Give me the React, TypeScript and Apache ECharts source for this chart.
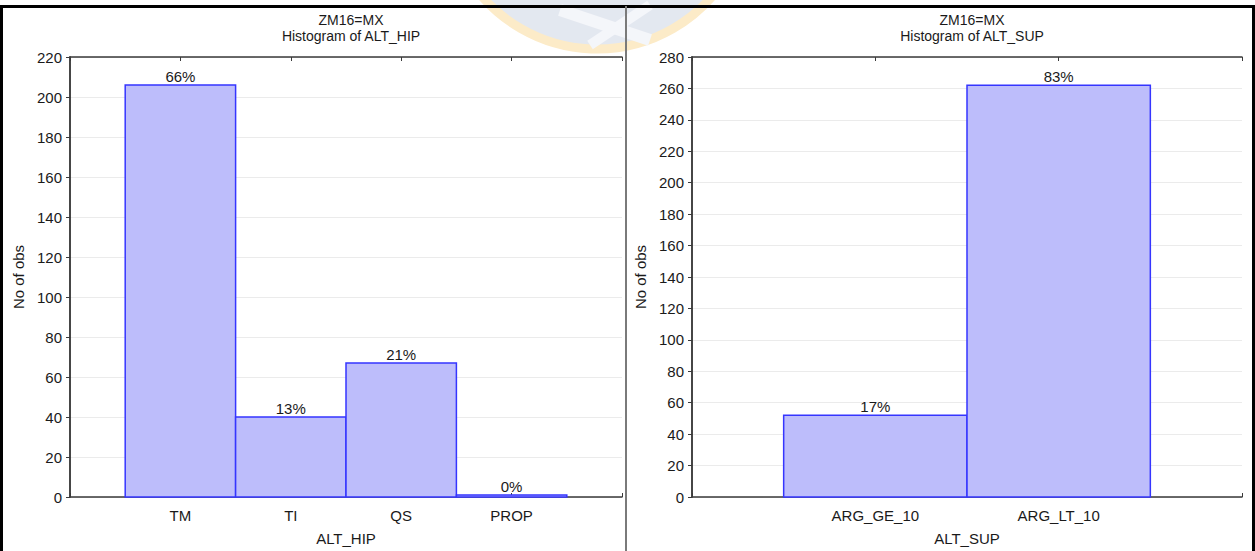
import React, { useEffect, useRef } from "react";
import * as echarts from "echarts";

const hipCategories = ["TM", "TI", "QS", "PROP"];
const hipCounts = [206, 40, 67, 1];
const supCategories = ["ARG_GE_10", "ARG_LT_10"];
const supCounts = [52, 262];
const hipYMax = 220;
const supYMax = 280;
const yInterval = 20;
const groupTitle = "ZM16=MX";
const hipTitle = "Histogram of ALT_HIP";
const supTitle = "Histogram of ALT_SUP";
const hipAxisName = "ALT_HIP";
const supAxisName = "ALT_SUP";
const yAxisName = "No of obs";

const FONT = "'Liberation Sans', Arial, sans-serif";
const TXT = "#1a1a1a";
const AXIS = "#3a3a3a";
const FS = 15;

function histSeries(counts: number[], xIdx: number, yIdx: number) {
  const total = counts.reduce((a, b) => a + b, 0);
  return {
    type: "custom",
    xAxisIndex: xIdx,
    yAxisIndex: yIdx,
    z: 5,
    data: counts.map((v, i) => [i + 1, v]),
    renderItem: (params: any, api: any) => {
      const x = api.value(0);
      const y = api.value(1);
      const p0 = api.coord([x - 0.5, 0]);
      const p1 = api.coord([x + 0.5, y]);
      const pct = Math.round((y / total) * 100) + "%";
      return {
        type: "group",
        children: [
          {
            type: "rect",
            shape: { x: p0[0], y: p1[1], width: p1[0] - p0[0], height: p0[1] - p1[1] },
            style: { fill: "#bdbdfb", stroke: "#3535ff", lineWidth: 1.5 },
          },
          {
            type: "text",
            style: {
              text: pct,
              x: (p0[0] + p1[0]) / 2,
              y: p1[1] - 1,
              align: "center",
              verticalAlign: "bottom",
              fill: TXT,
              font: `${FS}px ${FONT}`,
            },
          },
        ],
      };
    },
  };
}

function xAxes(cats: string[], grid: number, name: string) {
  const max = cats.length + 1;
  const base = {
    type: "value",
    gridIndex: grid,
    min: 0,
    max,
    interval: 1,
    splitLine: { show: false },
    axisLine: { show: true, onZero: false, lineStyle: { color: AXIS, width: 1.5 } },
    axisTick: { show: true, inside: true, length: 4, lineStyle: { color: AXIS } },
  };
  return [
    {
      ...base,
      position: "bottom",
      name,
      nameLocation: "middle",
      nameGap: 34,
      nameTextStyle: { color: TXT, fontFamily: FONT, fontSize: FS },
      axisLabel: {
        color: TXT,
        fontFamily: FONT,
        fontSize: FS,
        margin: 11,
        formatter: (v: number) => (v >= 1 && v <= cats.length ? cats[v - 1] : ""),
      },
    },
    { ...base, position: "top", axisLabel: { show: false } },
  ];
}

function yAxes(maxV: number, grid: number) {
  const base = {
    type: "value",
    gridIndex: grid,
    min: 0,
    max: maxV,
    interval: yInterval,
    axisLine: { show: true, lineStyle: { color: AXIS, width: 1.5 } },
  };
  return [
    {
      ...base,
      position: "left",
      name: yAxisName,
      nameLocation: "middle",
      nameRotate: 90,
      nameGap: 44,
      nameTextStyle: { color: TXT, fontFamily: FONT, fontSize: FS },
      axisTick: { show: true, inside: false, length: 4, lineStyle: { color: AXIS } },
      axisLabel: { color: TXT, fontFamily: FONT, fontSize: FS, margin: 8 },
      splitLine: { show: true, lineStyle: { color: "#ebebeb", width: 1 } },
    },
    {
      ...base,
      position: "right",
      axisTick: { show: true, inside: true, length: 4, lineStyle: { color: AXIS } },
      axisLabel: { show: false },
      splitLine: { show: false },
    },
  ];
}

export default function App() {
  const ref = useRef<HTMLDivElement>(null);
  useEffect(() => {
    if (!ref.current) return;
    const chart = echarts.init(ref.current, null, { renderer: "svg" });
    const titleStyle = { color: TXT, fontFamily: FONT, fontSize: 14, fontWeight: "normal", lineHeight: 16 };
    const option: any = {
      animation: false,
      backgroundColor: "#ffffff",
      title: [
        { text: groupTitle + "\n" + hipTitle, left: 346, top: 7, textAlign: "center", textStyle: titleStyle },
        { text: groupTitle + "\n" + supTitle, left: 967, top: 7, textAlign: "center", textStyle: titleStyle },
      ],
      grid: [
        { left: 70, top: 57, width: 552, height: 440, show: false },
        { left: 692, top: 57, width: 550, height: 440, show: false },
      ],
      xAxis: [...xAxes(hipCategories, 0, hipAxisName), ...xAxes(supCategories, 1, supAxisName)],
      yAxis: [...yAxes(hipYMax, 0), ...yAxes(supYMax, 1)],
      series: [histSeries(hipCounts, 0, 0), histSeries(supCounts, 2, 2)],
      graphic: [
        {
          type: "circle",
          silent: true,
          z: -10,
          shape: { cx: 597, cy: -103, r: 152 },
          style: { fill: "#e3e8f0", stroke: "#fcebc8", lineWidth: 9 },
        },
        {
          type: "line",
          silent: true,
          z: -9,
          shape: { x1: 560, y1: 10, x2: 650, y2: 40 },
          style: { stroke: "#f4f6fa", lineWidth: 12 },
        },
        {
          type: "line",
          silent: true,
          z: -9,
          shape: { x1: 590, y1: 45, x2: 650, y2: 5 },
          style: { stroke: "#f4f6fa", lineWidth: 10 },
        },
        {
          type: "line",
          silent: true,
          z: 20,
          shape: { x1: 0, y1: 6.5, x2: 1255, y2: 6.5 },
          style: { stroke: "#000000", lineWidth: 3 },
        },
        {
          type: "line",
          silent: true,
          z: 20,
          shape: { x1: 1.5, y1: 5, x2: 1.5, y2: 551 },
          style: { stroke: "#000000", lineWidth: 3 },
        },
        {
          type: "line",
          silent: true,
          z: 20,
          shape: { x1: 1253.5, y1: 5, x2: 1253.5, y2: 551 },
          style: { stroke: "#000000", lineWidth: 3 },
        },
        {
          type: "line",
          silent: true,
          z: 20,
          shape: { x1: 626, y1: 6, x2: 626, y2: 551 },
          style: { stroke: "#7a7a7a", lineWidth: 2 },
        },
      ],
    };
    chart.setOption(option);
    return () => chart.dispose();
  }, []);
  return (
    <div
      ref={ref}
      style={{ position: "fixed", left: 0, top: 0, width: 1255, height: 551, background: "#fff" }}
    />
  );
}
